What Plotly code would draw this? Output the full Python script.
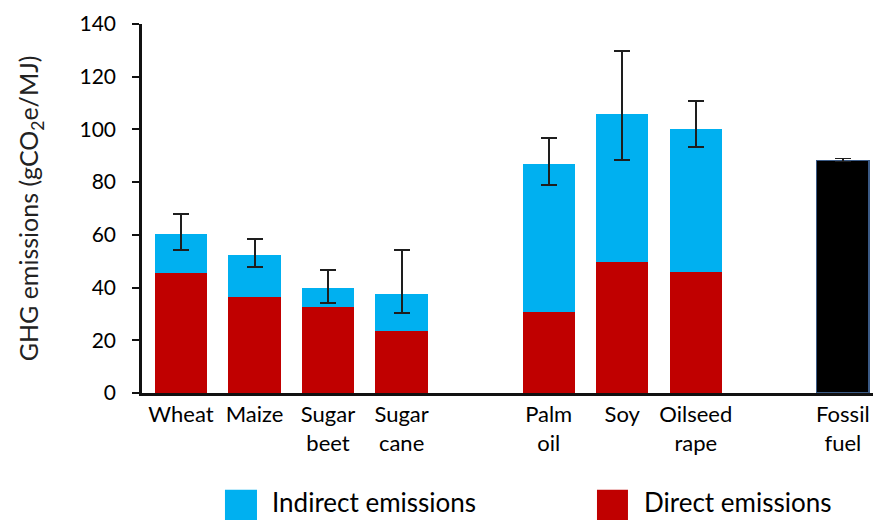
import plotly.graph_objects as go

# Category slots along the x axis (blank entries separate the crop groups)
slots = ["Wheat", "Maize", "Sugar<br>beet", "Sugar<br>cane", " ",
         "Palm<br>oil", "Soy", "Oilseed<br>rape", "  ", "Fossil<br>fuel"]

crops = ["Wheat", "Maize", "Sugar<br>beet", "Sugar<br>cane",
         "Palm<br>oil", "Soy", "Oilseed<br>rape"]
direct = [45.4, 36.6, 32.6, 23.7, 30.9, 49.6, 46.0]
total = [60.5, 52.2, 40.0, 37.7, 86.8, 106.0, 100.2]
err_high = [67.8, 58.4, 46.8, 54.3, 96.9, 129.6, 110.9]
err_low = [54.3, 47.9, 34.0, 30.2, 78.8, 88.3, 93.4]

fossil_cat = ["Fossil<br>fuel"]
fossil_val = [88.3]
fossil_high = [88.9]
fossil_low = [87.8]

indirect = [t - d for t, d in zip(total, direct)]
err_up = [h - t for h, t in zip(err_high, total)]
err_down = [t - l for t, l in zip(total, err_low)]

BLUE = "#00b0f0"
RED = "#c00000"
FONT = "Lato"

fig = go.Figure()
fig.add_trace(go.Bar(x=crops, y=direct, name="Direct emissions",
                     marker=dict(color=RED, line=dict(width=0))))
fig.add_trace(go.Bar(x=crops, y=indirect, name="Indirect emissions",
                     marker=dict(color=BLUE, line=dict(width=0)),
                     error_y=dict(type="data", symmetric=False,
                                  array=err_up, arrayminus=err_down,
                                  color="#1e1e1e", thickness=2, width=8)))
fig.add_trace(go.Bar(x=fossil_cat, y=fossil_val, name="Fossil fuel",
                     marker=dict(color="#000000",
                                 line=dict(color="#3b5a85", width=1.5)),
                     error_y=dict(type="data", symmetric=False,
                                  array=[h - v for h, v in zip(fossil_high, fossil_val)],
                                  arrayminus=[v - l for v, l in zip(fossil_val, fossil_low)],
                                  color="#1e1e1e", thickness=1.5, width=8)))

fig.update_layout(
    width=873, height=520,
    margin=dict(l=142, r=0, t=24, b=127),
    barmode="stack", bargap=0.29,
    plot_bgcolor="white", paper_bgcolor="white",
    showlegend=False,
    font=dict(family=FONT, color="#000000", size=19),
)

fig.update_xaxes(
    type="category", categoryorder="array", categoryarray=slots,
    tickvals=[s for s in slots if s.strip()],
    range=[-0.53, 9.41],
    showline=True, linecolor="#111111", linewidth=2.5,
    ticks="", showgrid=False,
    tickfont=dict(family=FONT, size=22, color="#000000"),
)
fig.update_yaxes(
    range=[0, 140], dtick=20,
    showline=True, linecolor="#111111", linewidth=2.5,
    ticks="outside", ticklen=7, tickwidth=2, tickcolor="#111111",
    ticklabelstandoff=12,
    showgrid=False, zeroline=False,
    tickfont=dict(family=FONT, size=21, color="#000000"),
    title=dict(text="GHG emissions (gCO<sub>2</sub>e/MJ)",
               font=dict(family=FONT, size=25, color="#222222"),
               standoff=34),
)

# Legend drawn below the axis
legend_items = [("Indirect emissions", BLUE, 0.1135, 0.1573, 0.1751),
                ("Direct emissions", RED, 0.6224, 0.6648, 0.684)]
for label, color, x0, x1, tx in legend_items:
    fig.add_shape(type="rect", xref="paper", yref="paper",
                  x0=x0, x1=x1, y0=-0.349, y1=-0.262,
                  fillcolor=color, line=dict(width=0))
    fig.add_annotation(text=label, xref="paper", yref="paper",
                       x=tx, y=-0.296, xanchor="left", yanchor="middle",
                       showarrow=False,
                       font=dict(family=FONT, size=26, color="#000000"))

fig.write_html("out.html")
